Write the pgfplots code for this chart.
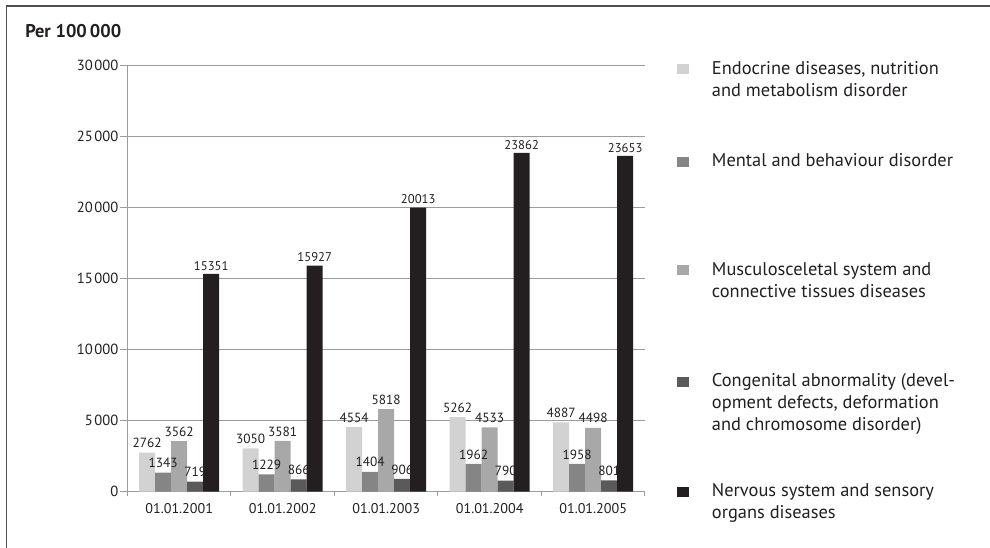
\documentclass[border=0pt]{standalone}
\usepackage{fontspec}
\setmainfont{PT Sans}
\usepackage{pgfplots}
\pgfplotsset{compat=1.18}
\definecolor{cA}{HTML}{D2D2D2}
\definecolor{cB}{HTML}{858585}
\definecolor{cC}{HTML}{A8A8A8}
\definecolor{cD}{HTML}{5A5A5A}
\definecolor{cE}{HTML}{231F20}
\definecolor{gridc}{HTML}{9C9C9C}
\definecolor{txt}{HTML}{231F20}
\definecolor{framec}{HTML}{505050}
\begin{document}
\begin{tikzpicture}
\useasboundingbox (0,0) rectangle (742.5pt,-410.25pt);
\begin{axis}[
  at={(95.6pt,-368.8pt)}, anchor=south west,
  scale only axis, width=388.1pt, height=319.5pt,
  ybar=0pt, bar width=12pt,
  xmin=-0.5, xmax=4.5, ymin=0, ymax=30000,
  xtick={0,1,2,3,4},
  xticklabels={01.01.2001,01.01.2002,01.01.2003,01.01.2004,01.01.2005},
  minor xtick={-0.5,0.5,1.5,2.5,3.5,4.5},
  ytick={0,5000,10000,15000,20000,25000,30000},
  scaled y ticks=false,
  axis x line*=bottom, axis y line*=left,
  axis line style={color=gridc, line width=0.75pt, -},
  ymajorgrids, major grid style={color=gridc, line width=0.75pt},
  tick align=outside,
  major tick length=5.6pt, minor tick length=3pt,
  major x tick style={draw=none},
  minor x tick style={color=gridc, line width=0.75pt},
  major y tick style={color=gridc, line width=0.75pt},
  tick label style={font=\fontsize{11}{13}\selectfont, text=txt},
  xticklabel style={font=\fontsize{10.6}{12}\selectfont},
  /pgf/number format/assume math mode=true,
  yticklabel style={/pgf/number format/1000 sep={\kern0.1em}, inner xsep=1pt},
  nodes near coords,
  nodes near coords style={font=\fontsize{10}{12}\selectfont, text=txt, /pgf/number format/1000 sep={}},
]
\addplot[fill=cA, draw=none] coordinates {(0,2762) (1,3050) (2,4554) (3,5262) (4,4887)};
\addplot[fill=cB, draw=none] coordinates {(0,1343) (1,1229) (2,1404) (3,1962) (4,1958)};
\addplot[fill=cC, draw=none] coordinates {(0,3562) (1,3581) (2,5818) (3,4533) (4,4498)};
\addplot[fill=cD, draw=none] coordinates {(0,719) (1,866) (2,906) (3,790) (4,801)};
\addplot[fill=cE, draw=none, nodes near coords style={font=\fontsize{9.5}{11}\selectfont, inner ysep=2.5pt}] coordinates {(0,15351) (1,15927) (2,20013) (3,23862) (4,23653)};
\end{axis}
\begin{scope}[x=0.75pt, y=-0.75pt]
\draw[framec, line width=1.1pt] (6.7,560) -- (6.7,6) -- (1000,6);
\node[anchor=base west, inner sep=0, font=\bfseries\fontsize{13.8}{16}\selectfont, text=txt] at (25,37.3) {Per 100\,000};
\fill[cA] (676.7,64) rectangle (689.3,74);
\fill[cB] (676.7,156.7) rectangle (689.3,166.7);
\fill[cC] (676.7,265) rectangle (689.3,275);
\fill[cD] (676.7,376.7) rectangle (689.3,386.7);
\fill[cE] (676.7,486.7) rectangle (689.3,496.7);
\begin{scope}[every node/.style={anchor=base west, inner sep=0, font=\fontsize{13.8}{16}\selectfont, text=txt}]
\node at (711.7,74) {Endocrine diseases, nutrition};
\node at (711.7,96) {and metabolism disorder};
\node at (711.7,166.7) {Mental and behaviour disorder};
\node at (711.7,275) {Musculosceletal system and};
\node at (711.7,297) {connective tissues diseases};
\node at (711.7,386.7) {Congenital abnormality (devel-};
\node at (711.7,408.7) {opment defects, deformation};
\node at (711.7,430.7) {and chromosome disorder)};
\node at (711.7,496.7) {Nervous system and sensory};
\node at (711.7,518.7) {organs diseases};
\end{scope}
\end{scope}
\end{tikzpicture}
\end{document}
